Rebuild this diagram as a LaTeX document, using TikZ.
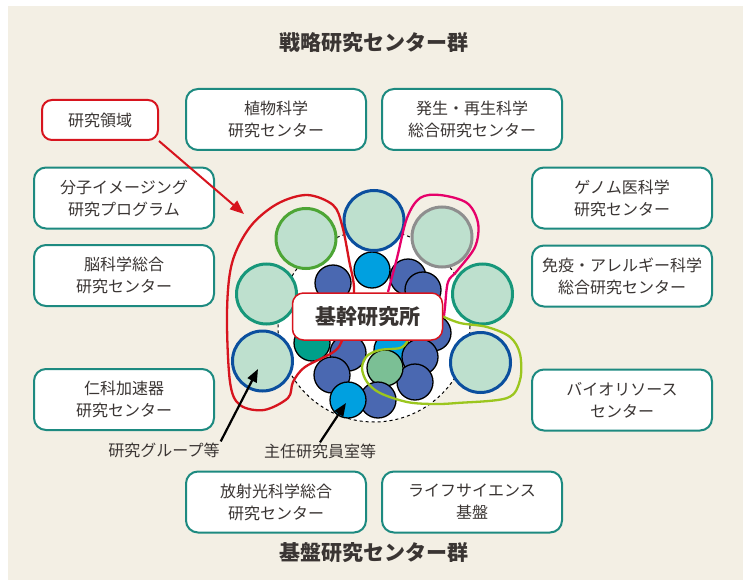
\documentclass[tikz,border=0pt]{standalone}
\usepackage{fontspec}
\newfontfamily\jp{Noto Sans CJK JP}
\usetikzlibrary{arrows.meta}
\definecolor{bgc}{HTML}{F3EFE4}
\definecolor{boxteal}{HTML}{1D8A80}
\definecolor{txt}{HTML}{3A3533}
\definecolor{redc}{HTML}{D7141E}
\definecolor{pinkc}{HTML}{E6006A}
\definecolor{ygreen}{HTML}{9BC61E}
\definecolor{bigfill}{HTML}{BEE0CE}
\definecolor{blueb}{HTML}{0B4F9E}
\definecolor{greenb}{HTML}{4DA535}
\definecolor{tealb}{HTML}{17977A}
\definecolor{grayb}{HTML}{8E8E8E}
\definecolor{dblue}{HTML}{4A68B1}
\definecolor{lblue}{HTML}{00A0E0}
\definecolor{tealsm}{HTML}{00A08A}
\definecolor{greensm}{HTML}{7BBF95}
\begin{document}
\begin{tikzpicture}[x=1pt,y=-1pt,
  cbox/.style={draw=boxteal, line width=2pt, fill=white, rounded corners=12pt,
    minimum width=180pt, minimum height=61pt, align=center, inner sep=0pt,
    font=\jp\fontsize{16}{22}\selectfont, text=txt},
  big/.style={circle, fill=bigfill, line width=3pt, minimum size=60pt, inner sep=0pt},
  small/.style={circle, draw=black, line width=1.3pt, minimum size=36pt, inner sep=0pt},
  title/.style={font=\jp\bfseries\fontsize{21}{24}\selectfont, text=txt},
  lab/.style={font=\jp\fontsize{16}{20}\selectfont, text=txt, inner sep=1pt},
  outl/.style={line width=2.3pt, line join=round},
  blackarr/.style={line width=2.2pt, -{Triangle[length=13pt,width=10pt]}}
]
\useasboundingbox (0,0) rectangle (743,580);
\fill[white] (0,0) rectangle (743,580);
\fill[bgc] (8,6) rectangle (743,580);

% titles
\node[title] (t1) at (374,43) {戦略研究センター群};
\node[title] (t2) at (374,553) {基盤研究センター群};

% boxes
\node[cbox] (plant) at (276,119.5) {植物科学\\研究センター};
\node[cbox] (dev) at (472,119.5) {発生・再生科学\\総合研究センター};
\node[cbox] (mol) at (124,198) {分子イメージング\\研究プログラム};
\node[cbox] (brain) at (124,275.5) {脳科学総合\\研究センター};
\node[cbox] (nishina) at (124,399.5) {仁科加速器\\研究センター};
\node[cbox] (genome) at (622,198) {ゲノム医科学\\研究センター};
\node[cbox] (immune) at (622,276) {免疫・アレルギー科学\\総合研究センター};
\node[cbox] (bio) at (622,400) {バイオリソース\\センター};
\node[cbox] (spring) at (276,502) {放射光科学総合\\研究センター};
\node[cbox] (life) at (472,502) {ライフサイエンス\\基盤};

\node[draw=redc, line width=2pt, fill=white, rounded corners=10pt, minimum width=116pt,
  minimum height=40pt, font=\jp\fontsize{16}{20}\selectfont, text=txt] (area) at (100,120) {研究領域};

% dashed circle
\node[circle, draw=black, dashed, line width=1pt, fill=white, minimum size=192pt, inner sep=0pt] (core) at (374,326) {};

% small circles
\node[small, fill=lblue] (s1) at (372,270) {};
\node[small, fill=dblue] (s2) at (333,283) {};
\node[small, fill=dblue] (s3) at (408,277) {};
\node[small, fill=dblue] (s4) at (423,290) {};
\node[small, fill=tealsm] (s5) at (312,343) {};
\node[small, fill=dblue] (s6) at (433,333) {};
\node[small, fill=dblue] (s7) at (348,353) {};
\node[small, fill=lblue] (s8) at (392,350) {};
\node[small, fill=dblue] (s9) at (420,357) {};
\node[small, fill=dblue] (s10) at (332,375) {};
\node[small, fill=dblue] (s12) at (415,382) {};
\node[small, fill=greensm] (s11) at (385,368) {};
\node[small, fill=dblue] (s14) at (378,400) {};
\node[small, fill=lblue] (s13) at (348,400) {};

% big circles
\node[big, draw=blueb] (b1) at (374,220.5) {};
\node[big, draw=greenb] (b2) at (306,238.5) {};
\node[big, draw=grayb] (b3) at (442,237) {};
\node[big, draw=tealb] (b4) at (266.5,294) {};
\node[big, draw=tealb] (b5) at (482.5,294) {};
\node[big, draw=blueb] (b6) at (262.5,361) {};
\node[big, draw=blueb] (b7) at (480.5,362.5) {};

% outlines
\draw[outl, redc] plot[smooth cycle, tension=0.55] coordinates {
  (307,195) (333,205) (342,225) (349,260) (354,292) (345,330) (336,350)
  (305,367) (293,382) (288,398) (264,410) (240,405) (230,382) (227,313)
  (232,263) (250,227) (277,204)};
\draw[outl, pinkc] plot[smooth, tension=0.55] coordinates {
  (388,292) (397,258) (407,218) (420,198) (440,195) (467,203) (478,223)
  (475,247) (457,271) (448,282) (445,307) (444,316)};
\draw[outl, ygreen] plot[smooth, tension=0.55] coordinates {
  (442,316) (460,323) (487,327) (510,337) (520,354) (520,380) (507,398)
  (457,403) (433,404) (407,402) (380,393) (367,382) (362,368) (367,356)
  (380,350) (400,348) (407,342) (409,336)};

% core label
\node[draw=redc, line width=1.5pt, fill=white, rounded corners=11pt, minimum width=150pt,
  minimum height=47pt, inner sep=0pt, font=\jp\bfseries\fontsize{21}{24}\selectfont, text=txt]
  (kikan) at (367.5,316.5) {基幹研究所};

% labels and arrows
\node[lab] (grp) at (164,450) {研究グループ等};
\node[lab] (shunin) at (320,451) {主任研究員室等};
\coordinate (tipR) at (244,214);
\coordinate (tipG) at (258,369);
\coordinate (tipS) at (346,403);
\draw[redc, line width=2pt, -{Triangle[length=14pt,width=11pt]}] (area.south east) -- (tipR);
\draw[blackarr] (grp.north east) -- (tipG);
\draw[blackarr] (shunin.north) -- (tipS);
\end{tikzpicture}
\end{document}
